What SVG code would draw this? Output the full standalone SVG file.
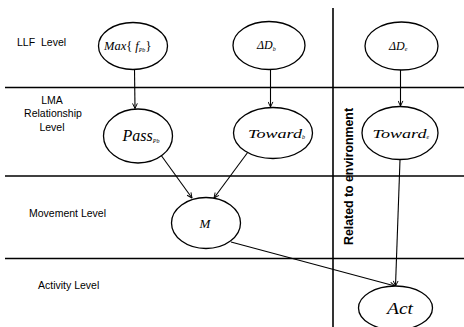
<svg xmlns="http://www.w3.org/2000/svg" width="464" height="327" viewBox="0 0 464 327">
<style>
.div{stroke:#000;stroke-width:1.6;fill:none}
.node ellipse{fill:#fff;stroke:#000;stroke-width:1.3}
.lbl{font-family:"Liberation Sans",Arial,sans-serif;font-size:10.5px;fill:#000}
.nt{font-family:"Liberation Serif","Times New Roman",serif;font-style:italic;fill:#000}
.sub{font-size:6px}
.edge{stroke:#000;stroke-width:1.1;fill:none;marker-end:url(#arr)}
</style>
<defs>
<marker id="arr" viewBox="0 0 10 10" refX="9.5" refY="5" markerWidth="6" markerHeight="6" orient="auto" markerUnits="userSpaceOnUse">
<path d="M1,1 L9.5,5 L1,9" fill="none" stroke="#000" stroke-width="1.6"/>
</marker>
</defs>
<rect width="464" height="327" fill="#fff"/>
<g id="dividers">
<line class="div" x1="5" y1="87.5" x2="464" y2="87.5"/>
<line class="div" x1="5" y1="176" x2="464" y2="176"/>
<line class="div" x1="5" y1="258.5" x2="464" y2="258.5"/>
<line class="div" x1="333" y1="8" x2="333" y2="327"/>
</g>
<g id="level-labels">
<text class="lbl" x="17" y="46" word-spacing="3">LLF Level</text>
<text class="lbl" x="52" y="103.5" text-anchor="middle" font-size="10">LMA</text>
<text class="lbl" x="53" y="117" text-anchor="middle" font-size="10">Relationship</text>
<text class="lbl" x="52" y="130.5" text-anchor="middle" font-size="10">Level</text>
<text class="lbl" x="29" y="217">Movement Level</text>
<text class="lbl" x="38" y="289">Activity Level</text>
<text x="0" y="0" transform="translate(353,245) rotate(-90)" font-family="Liberation Sans,Arial,sans-serif" font-weight="bold" font-size="12" textLength="137" lengthAdjust="spacingAndGlyphs">Related to environment</text>
</g>
<g id="connectors">
<line class="edge" x1="134.5" y1="69" x2="135" y2="108.5"/>
<line class="edge" x1="270.5" y1="69.5" x2="270.5" y2="107"/>
<line class="edge" x1="400.5" y1="70" x2="400.5" y2="106"/>
<line class="edge" x1="158" y1="151" x2="192" y2="198"/>
<line class="edge" x1="248" y1="152" x2="214" y2="198"/>
<line class="edge" x1="400" y1="160" x2="395.5" y2="286"/>
<line class="edge" x1="231" y1="242" x2="395" y2="286"/>
</g>
<g id="n-max" class="node">
<ellipse cx="133" cy="46" rx="34.5" ry="23.5"/>
<text class="nt" x="104" y="50" font-size="12.5">Max<tspan font-style="normal">{</tspan><tspan dx="3">f</tspan><tspan class="sub" dy="2">Pb</tspan><tspan font-style="normal" dy="-2">}</tspan></text>
</g>
<g id="n-ddb" class="node">
<ellipse cx="269" cy="45.5" rx="36" ry="24"/>
<text class="nt" x="257" y="49" font-size="12">ΔD<tspan class="sub" dy="1.5">b</tspan></text>
</g>
<g id="n-dde" class="node">
<ellipse cx="401.5" cy="46" rx="36.5" ry="24"/>
<text class="nt" x="389" y="49.5" font-size="12">ΔD<tspan class="sub" dy="1.5">e</tspan></text>
</g>
<g id="n-pass" class="node">
<ellipse cx="138" cy="136" rx="34.5" ry="27"/>
<text class="nt" x="122.5" y="141" font-size="16">Pass<tspan class="sub" dy="2">Pb</tspan></text>
</g>
<g id="n-towardb" class="node">
<ellipse cx="273" cy="133" rx="39.5" ry="25.5"/>
<text class="nt" x="248" y="137.5" font-size="13.5"><tspan textLength="54" lengthAdjust="spacingAndGlyphs">Toward</tspan><tspan class="sub" dy="1.5" font-size="7">b</tspan></text>
</g>
<g id="n-towarde" class="node">
<ellipse cx="400" cy="133" rx="38" ry="26.5"/>
<text class="nt" x="372.5" y="137.5" font-size="13.5"><tspan textLength="54" lengthAdjust="spacingAndGlyphs">Toward</tspan><tspan class="sub" dy="1.5" font-size="7">e</tspan></text>
</g>
<g id="n-m" class="node">
<ellipse cx="206" cy="223" rx="34.5" ry="25.5"/>
<text class="nt" x="205" y="227.5" font-size="13" text-anchor="middle">M</text>
</g>
<g id="n-act" class="node">
<ellipse cx="395.5" cy="308" rx="37" ry="22"/>
<text class="nt" x="400" y="314" font-size="16" text-anchor="middle" textLength="26" lengthAdjust="spacingAndGlyphs">Act</text>
</g>
</svg>
